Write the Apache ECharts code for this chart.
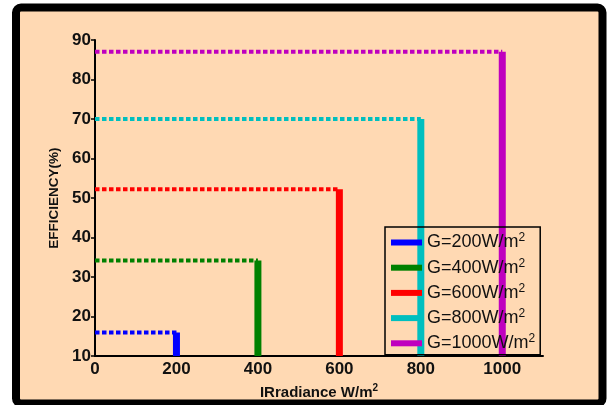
<!DOCTYPE html>
<html>
<head>
<meta charset="utf-8">
<script src="https://cdn.jsdelivr.net/npm/echarts@6/dist/echarts.min.js"></script>
<style>
html,body{margin:0;padding:0;background:#fff;}
#chart{width:607px;height:405px;}
</style>
</head>
<body>
<div id="chart"></div>
<script>
// Data
var seriesNames = ['G=200W/m2', 'G=400W/m2', 'G=600W/m2', 'G=800W/m2', 'G=1000W/m2'];
var irradiance = [200, 400, 600, 800, 1000];
var efficiency = [16, 34.2, 52.2, 70, 87];
var colors = ['#0000FF', '#008000', '#FF0000', '#00BFBF', '#BF00BF'];
var xTicks = [0, 200, 400, 600, 800, 1000];
var yTicks = [10, 20, 30, 40, 50, 60, 70, 80, 90];
var yMin = 10, yMax = 90, xMin = 0, xMax = 1100;

var chart = echarts.init(document.getElementById('chart'), null, {renderer: 'canvas'});
var series = [];
for (var i = 0; i < seriesNames.length; i++) {
  series.push({
    name: seriesNames[i], type: 'line', symbol: 'none', showSymbol: false,
    data: [[irradiance[i], efficiency[i]], [irradiance[i], yMin]],
    lineStyle: {color: colors[i], width: 7, cap: 'butt'},
    itemStyle: {color: colors[i]}, z: 3, animation: false
  });
}
for (var j = 0; j < seriesNames.length; j++) {
  series.push({
    name: seriesNames[j], type: 'line', symbol: 'none', showSymbol: false,
    data: [[xMin, efficiency[j]], [irradiance[j], efficiency[j]]],
    lineStyle: {color: colors[j], width: 4, type: [4.5, 2.5], cap: 'butt'},
    itemStyle: {color: colors[j]}, z: 2, animation: false
  });
}

var font = 'Liberation Sans, Arial, sans-serif';
chart.setOption({
  backgroundColor: 'transparent',
  animation: false,
  textStyle: {fontFamily: font},
  graphic: [{
    type: 'rect', z: -100, silent: true,
    shape: {x: 16, y: 7.5, width: 586.5, height: 396, r: 5},
    style: {fill: '#FFD9B3', stroke: '#000', lineWidth: 8}
  }],
  grid: {left: 95, right: 64, top: 40, bottom: 48, containLabel: false},
  xAxis: {
    type: 'value', min: xMin, max: xMax,
    name: '{n|IRradiance W/m}{s|2}', nameLocation: 'middle', nameGap: 22,
    nameTextStyle: {rich: {
      n: {fontFamily: font, fontWeight: 'bold', fontSize: 15, color: '#111'},
      s: {fontFamily: font, fontWeight: 'bold', fontSize: 10, color: '#111', verticalAlign: 'bottom', padding: [0, 0, 9, 0]}
    }},
    axisLine: {show: true, lineStyle: {color: '#000', width: 2}},
    axisTick: {show: false, customValues: xTicks},
    axisLabel: {customValues: xTicks, formatter: function (v) { return String(v); },
      fontFamily: font, fontWeight: 'bold', fontSize: 17, color: '#111', margin: 5},
    splitLine: {show: false}
  },
  yAxis: {
    type: 'value', min: yMin, max: yMax, interval: 10,
    name: 'EFFICIENCY(%)', nameLocation: 'middle', nameGap: 30,
    nameTextStyle: {fontFamily: font, fontWeight: 'bold', fontSize: 13.5, color: '#111'},
    axisLine: {show: true, lineStyle: {color: '#000', width: 2}},
    axisTick: {show: true, inside: false, length: 4, lineStyle: {color: '#000', width: 1.5}, customValues: yTicks},
    axisLabel: {customValues: yTicks, fontFamily: font, fontWeight: 'bold', fontSize: 17, color: '#111', margin: 4},
    splitLine: {show: false}
  },
  legend: {
    orient: 'vertical', left: 385, top: 227,
    padding: [5, 5, 1, 6],
    backgroundColor: 'transparent', borderColor: '#000', borderWidth: 1.5,
    icon: 'rect', itemWidth: 31, itemHeight: 6, itemGap: 4.2,
    data: seriesNames,
    formatter: function (n) { return '{t|' + n.slice(0, -1) + '}{s|2}'; },
    textStyle: {
      color: '#111',
      rich: {
        t: {fontFamily: font, fontSize: 18, color: '#111', lineHeight: 21},
        s: {fontFamily: font, fontSize: 12, color: '#111', verticalAlign: 'bottom', lineHeight: 21, padding: [0, 0, 9, 0]}
      }
    }
  },
  series: series
});
</script>
</body>
</html>
